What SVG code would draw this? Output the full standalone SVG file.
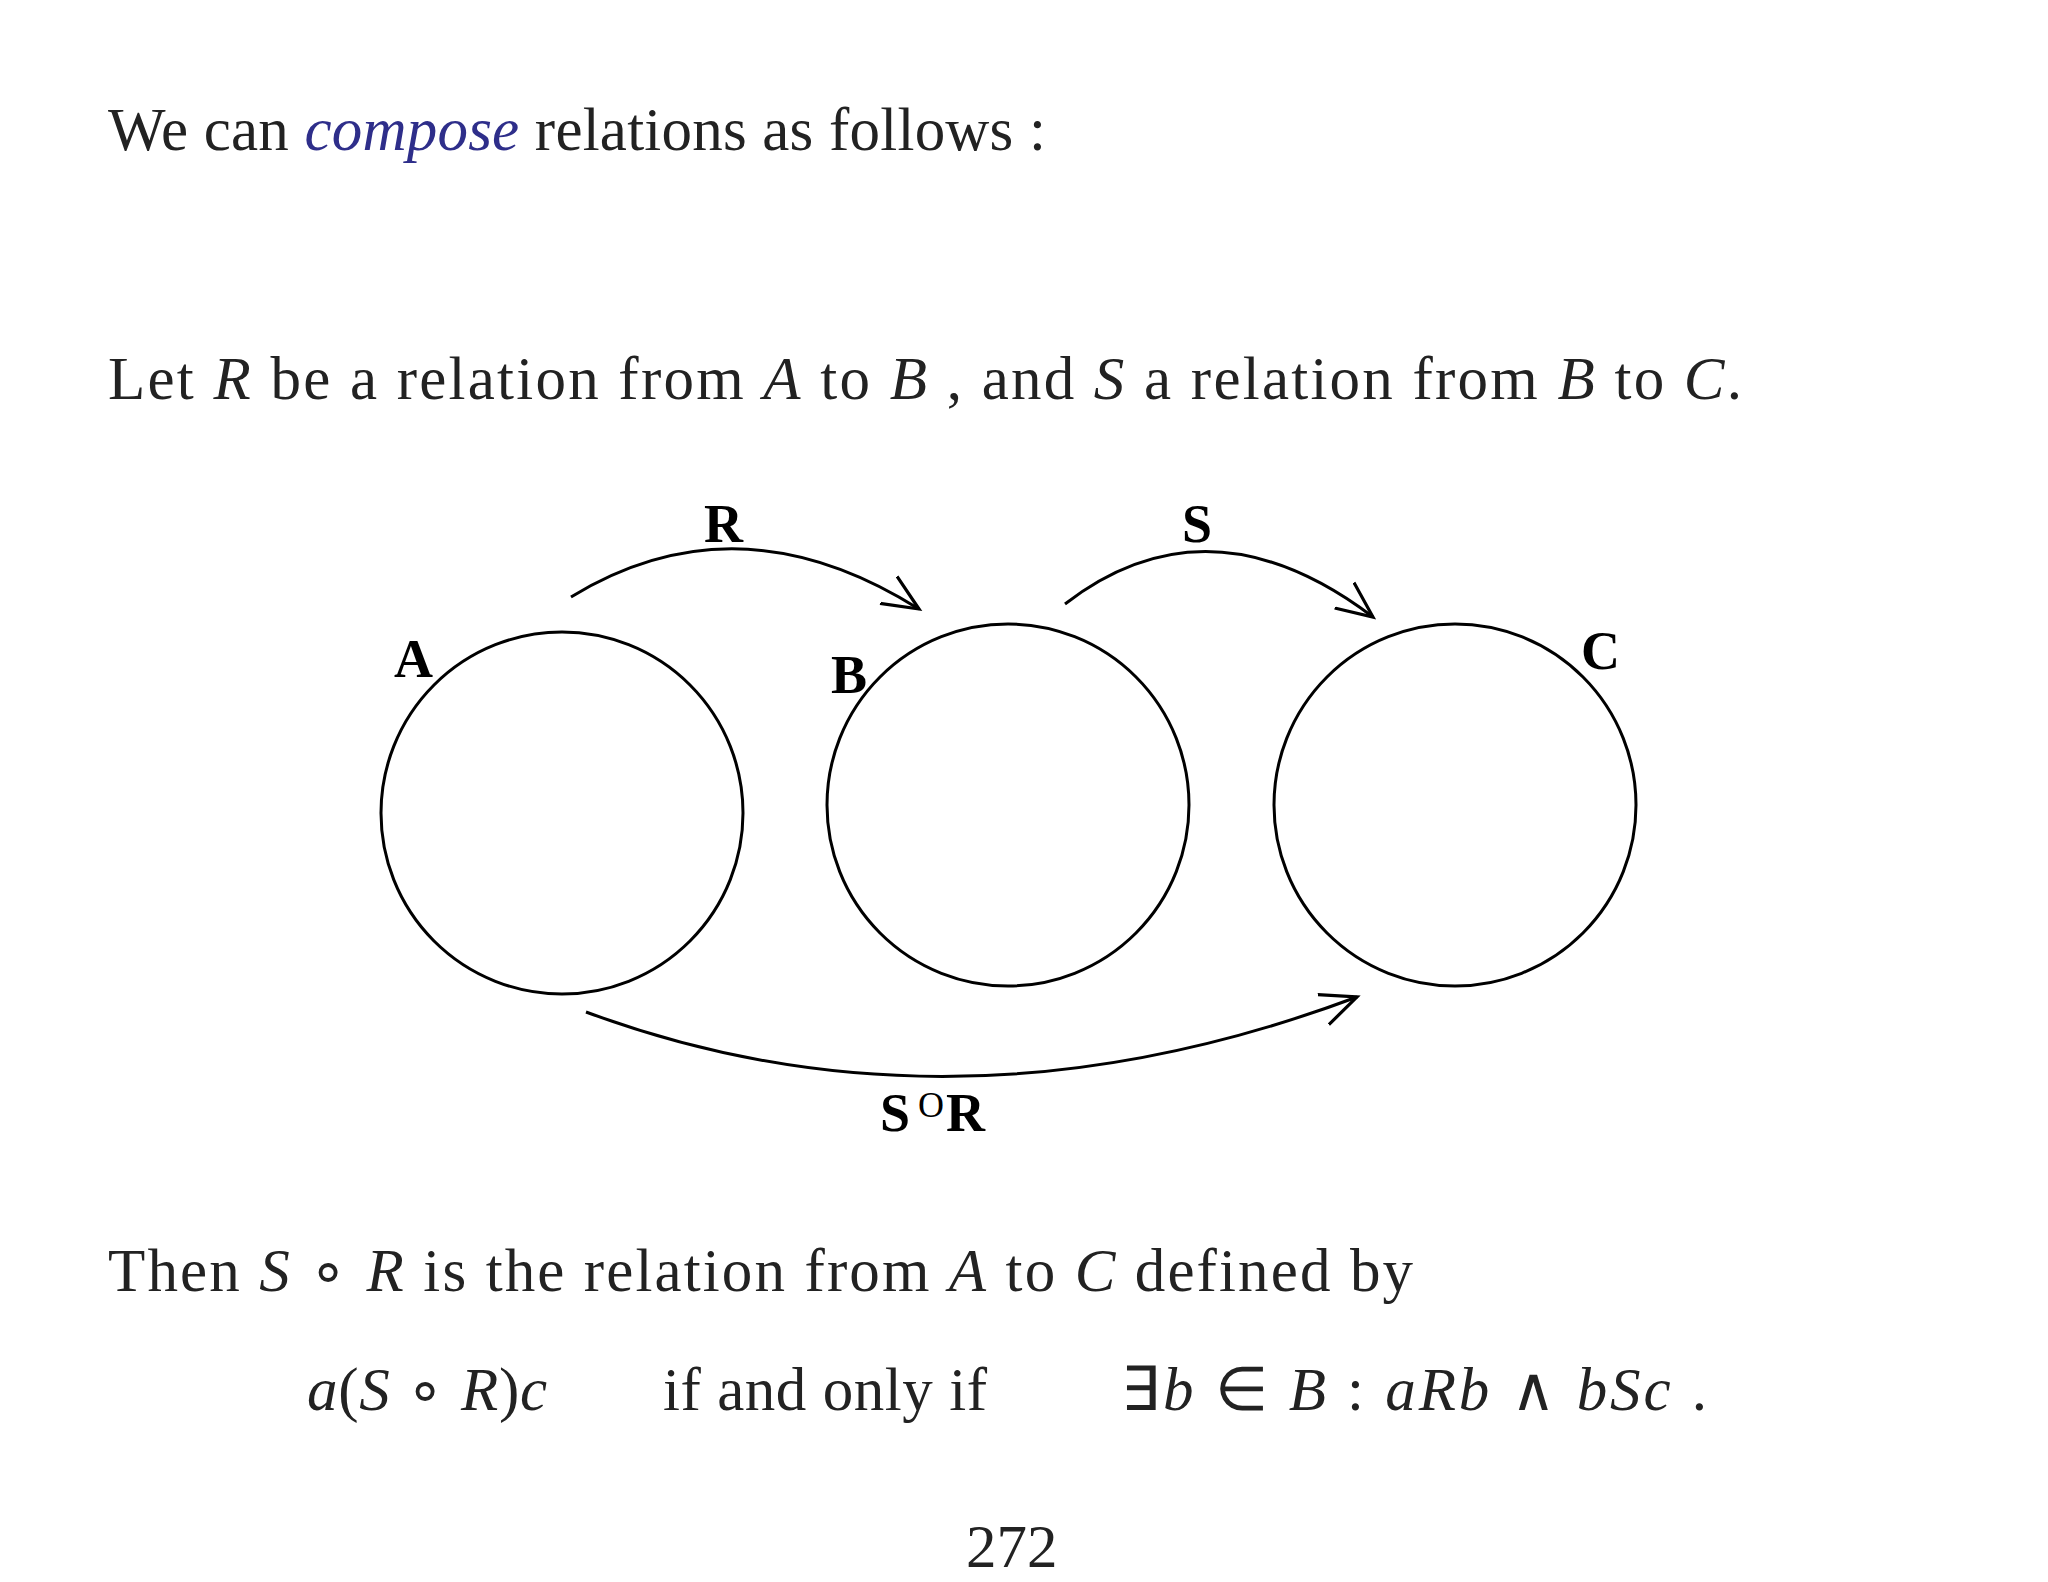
<svg xmlns="http://www.w3.org/2000/svg" width="2048" height="1582" viewBox="0 0 2048 1582">
<style>
.t{font-family:"Liberation Serif",serif;font-size:61px;fill:#222}
.i{font-style:italic}
.l{font-family:"Liberation Serif",serif;font-size:54px;font-weight:bold;fill:#000}
.n{fill:none;stroke:#000;stroke-width:3}
</style>
<defs><marker id="ah" viewBox="0 0 20 20" refX="18" refY="10" markerWidth="40" markerHeight="40" markerUnits="userSpaceOnUse" orient="auto"><path d="M0,2 L18,10 L0,18" fill="none" stroke="#000" stroke-width="1.6"/></marker></defs>
<rect width="2048" height="1582" fill="#fff"/>
<text class="t" x="108" y="150" textLength="938">We can <tspan class="i" fill="#2e2e8a">compose</tspan> relations as follows :</text>
<text class="t" x="108" y="399" textLength="1634">Let <tspan class="i">R</tspan> be a relation from <tspan class="i">A</tspan> to <tspan class="i">B</tspan> , and <tspan class="i">S</tspan> a relation from <tspan class="i">B</tspan> to <tspan class="i">C</tspan>.</text>
<g id="nodeA"><circle class="n" cx="562" cy="813" r="181"/><text class="l" x="394" y="677">A</text></g>
<g id="nodeB"><circle class="n" cx="1008" cy="805" r="181"/><text class="l" x="831" y="693">B</text></g>
<g id="nodeC"><circle class="n" cx="1455" cy="805" r="181"/><text class="l" x="1581" y="669">C</text></g>
<g id="connectors">
<path class="n" d="M571,597 Q738,495 919,609" marker-end="url(#ah)"/>
<path class="n" d="M1065,604 Q1209,493 1373,617" marker-end="url(#ah)"/>
<path class="n" d="M586,1012 Q953,1148 1357,997" marker-end="url(#ah)"/>
<text class="l" x="704" y="542">R</text>
<text class="l" x="1182" y="542">S</text>
<text class="l" x="880" y="1131">S<tspan font-size="36" font-weight="normal" dx="8" dy="-14">O</tspan><tspan dx="2" dy="14">R</tspan></text>
</g>
<text class="t" x="108" y="1291" textLength="1305">Then  <tspan class="i">S</tspan> ∘ <tspan class="i">R</tspan>  is the relation from <tspan class="i">A</tspan> to <tspan class="i">C</tspan> defined by</text>
<text class="t" x="307" y="1410" textLength="240"><tspan class="i">a</tspan>(<tspan class="i">S</tspan> ∘ <tspan class="i">R</tspan>)<tspan class="i">c</tspan></text>
<text class="t" x="663" y="1410" textLength="324">if and only if</text>
<text class="t" x="1121" y="1410" textLength="586">∃<tspan class="i">b</tspan> ∈ <tspan class="i">B</tspan>  :  <tspan class="i">aRb</tspan>  ∧  <tspan class="i">bSc</tspan> .</text>
<text class="t" x="966" y="1567" font-size="57">272</text>
</svg>
